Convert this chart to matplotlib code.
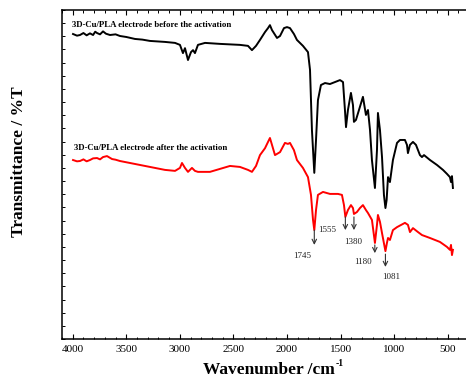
import matplotlib
matplotlib.use("Agg")
import matplotlib.pyplot as plt
from matplotlib.ticker import MultipleLocator

plt.rcParams["font.family"] = ["Liberation Serif", "DejaVu Serif"]

# FTIR spectra (wavenumber in cm-1, transmittance in arbitrary %T units)
wn_before = [3997, 3960, 3932, 3900, 3870, 3839, 3810, 3790, 3773, 3745, 3717, 3690,
             3652, 3600, 3559, 3500, 3419, 3350, 3279, 3139, 3045, 2999, 2971, 2952,
             2924, 2896, 2877, 2859, 2831, 2765, 2625, 2439, 2364, 2327, 2289, 2252,
             2205, 2177, 2159, 2140, 2093, 2065, 2028, 2000, 1972, 1935, 1907, 1851,
             1804, 1785, 1767, 1745, 1729, 1711, 1683, 1645, 1599, 1552, 1505, 1477,
             1459, 1449, 1431, 1403, 1384, 1375, 1356, 1328, 1291, 1263, 1244, 1225,
             1207, 1179, 1160, 1151, 1132, 1113, 1095, 1081, 1070, 1057, 1039, 1011,
             973, 945, 899, 880, 871, 852, 824, 796, 759, 740, 721, 665, 600, 544,
             507, 479, 469, 460, 451]
t_before = [92.7, 92.2, 92.4, 93.0, 92.3, 92.9, 92.4, 93.4, 93.0, 92.6, 93.5, 92.8,
            92.4, 92.6, 92.1, 91.8, 91.2, 91.0, 90.6, 90.3, 90.0, 89.4, 86.9, 88.4,
            84.8, 87.2, 87.8, 86.9, 89.4, 90.0, 89.7, 89.4, 89.1, 87.8, 89.1, 90.9,
            93.3, 94.5, 95.4, 93.9, 91.5, 92.1, 94.5, 94.8, 94.5, 92.7, 90.9, 89.1,
            87.2, 81.8, 63.5, 50.5, 60.5, 72.6, 77.2, 77.8, 77.5, 78.1, 78.7, 78.1,
            69.6, 64.4, 69.6, 74.8, 71.1, 66.0, 66.6, 69.6, 73.6, 68.1, 69.6, 63.5,
            54.4, 45.9, 57.4, 68.7, 63.5, 55.3, 43.8, 39.8, 42.2, 49.2, 47.7, 54.4,
            59.6, 60.5, 60.5, 59.0, 56.5, 59.0, 59.9, 59.0, 55.9, 55.3, 55.9, 54.4,
            52.9, 51.4, 50.2, 49.2, 47.7, 49.5, 45.9]

wn_after = [3997, 3960, 3932, 3900, 3870, 3839, 3810, 3773, 3745, 3717, 3680, 3633,
            3600, 3559, 3419, 3279, 3139, 3045, 2999, 2980, 2952, 2924, 2887, 2859,
            2831, 2719, 2532, 2439, 2364, 2327, 2289, 2252, 2205, 2177, 2159, 2140,
            2112, 2065, 2019, 1991, 1972, 1935, 1907, 1851, 1804, 1776, 1757, 1745,
            1729, 1711, 1664, 1599, 1524, 1487, 1468, 1455, 1431, 1403, 1384, 1375,
            1347, 1319, 1291, 1263, 1244, 1207, 1179, 1160, 1151, 1132, 1113, 1081,
            1067, 1057, 1039, 1011, 973, 899, 871, 852, 824, 777, 740, 665, 572,
            507, 479, 469, 460, 451]
t_after = [54.4, 54.0, 54.1, 54.6, 54.0, 54.4, 54.9, 55.0, 54.6, 55.3, 55.6, 54.7,
           54.5, 54.1, 53.2, 52.3, 51.4, 51.1, 52.0, 53.5, 52.0, 50.8, 52.0, 51.1,
           50.8, 50.8, 52.6, 52.3, 51.4, 50.8, 52.6, 55.9, 58.0, 59.9, 61.1, 59.0,
           55.9, 56.8, 59.6, 59.3, 59.6, 57.4, 54.4, 52.0, 49.2, 43.8, 36.2, 33.1,
           39.2, 43.8, 44.7, 44.1, 44.1, 43.8, 40.7, 37.1, 39.2, 40.7, 39.8, 38.0,
           38.6, 39.8, 40.7, 39.2, 38.3, 36.2, 29.2, 34.7, 37.7, 35.6, 32.2, 26.7,
           29.2, 30.7, 30.1, 33.1, 34.0, 35.3, 34.7, 32.5, 33.7, 32.5, 31.6, 30.7,
           29.5, 28.0, 27.1, 28.6, 25.5, 27.1]

# band assignments marked on the lower spectrum
band_wn = [1745, 1455, 1375, 1180, 1081]
band_tip = [28.6, 33.1, 33.1, 26.1, 21.9]
band_tail = [33.1, 37.1, 37.1, 28.6, 25.8]
label_text = ["1745", "1555", "1380", "1180", "1081"]
label_wn = [1860, 1627, 1384, 1291, 1029]
label_t = [25.2, 33.1, 29.5, 23.4, 18.8]

fig = plt.figure(figsize=(4.66, 3.87), dpi=100)
ax = fig.add_axes([62 / 466, 48 / 387, 413 / 466, 329 / 387])

ax.plot(wn_before, t_before, color="black", lw=1.4)
ax.plot(wn_after, t_after, color="red", lw=1.4)

for x, tip, tail in zip(band_wn, band_tip, band_tail):
    ax.annotate("", xy=(x, tip), xytext=(x, tail),
                arrowprops=dict(arrowstyle="->", color="#333333", lw=0.8,
                                mutation_scale=8, shrinkA=0, shrinkB=0))
for txt, x, y in zip(label_text, label_wn, label_t):
    ax.text(x, y, txt, fontsize=6.5, ha="center", va="center", color="#222222")

ax.text(4007, 95.4, "3D-Cu/PLA electrode before the activation",
        fontsize=6.3, fontweight="bold", ha="left", va="center")
ax.text(3988, 58.0, "3D-Cu/PLA electrode after the activation",
        fontsize=6.3, fontweight="bold", ha="left", va="center")

ax.set_xlim(4100, 245)
ax.set_ylim(0, 100)
ax.xaxis.set_major_locator(MultipleLocator(500))
ax.xaxis.set_minor_locator(MultipleLocator(100))
ax.yaxis.set_major_locator(MultipleLocator(4))
ax.tick_params(axis="x", which="major", direction="in", length=3.5, width=0.8,
               top=True, labelsize=8, pad=4)
ax.tick_params(axis="x", which="minor", direction="in", length=1.8, width=0.7, top=True)
ax.tick_params(axis="y", which="major", direction="in", length=1.8, width=0.7,
               labelleft=False)
for side in ax.spines.values():
    side.set_linewidth(1.1)
ax.spines["right"].set_visible(False)

# bold axis title, with a small "-1" exponent raised after it
ax.set_xlabel("Wavenumber /cm", fontsize=12.5, fontweight="bold", labelpad=6)
fig.canvas.draw()
lab = ax.xaxis.label.get_window_extent()
fig.text(lab.x1 + 1, lab.y1 - 6, "-1", fontsize=7, fontweight="bold",
         ha="left", va="bottom", transform=None)
fig.text(19 / 466, 1 - 162 / 387, "Transmittance / %T", fontsize=12.5,
         fontweight="bold", rotation=90, ha="center", va="center")

fig.savefig("out.png", dpi=100)
